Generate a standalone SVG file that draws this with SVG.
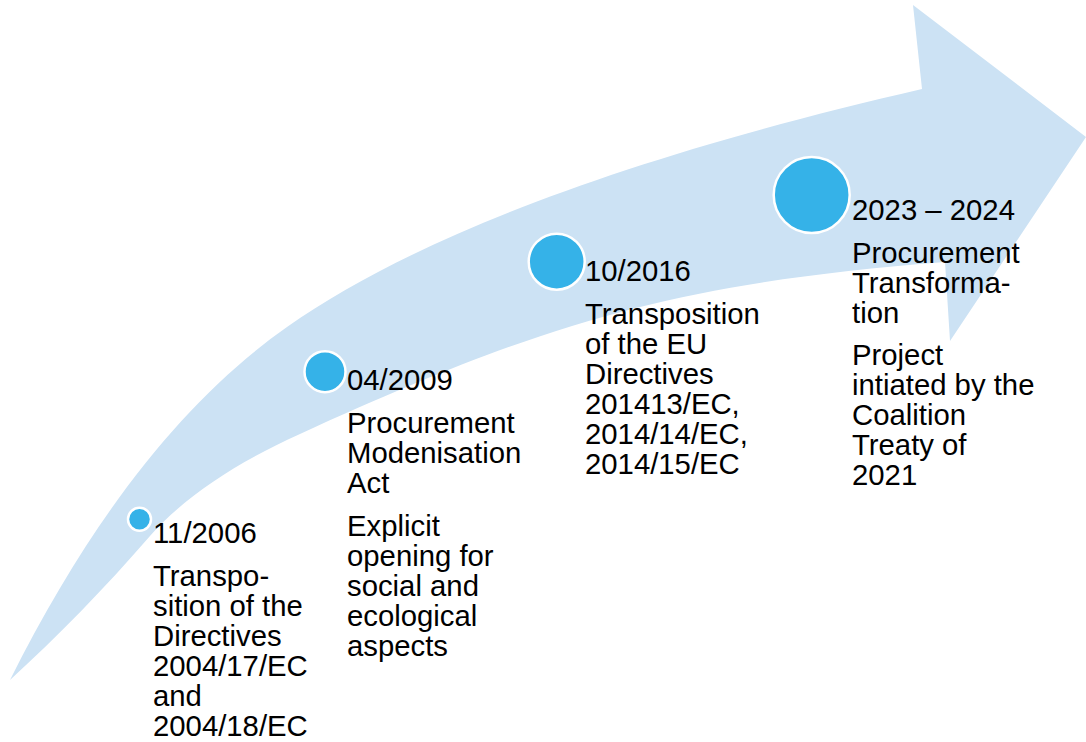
<svg xmlns="http://www.w3.org/2000/svg" width="1086" height="742" viewBox="0 0 1086 742">
<style>
.arrow{fill:#CCE2F4;stroke:none}
.dot{fill:#35B2E8;stroke:#FFFFFF;stroke-width:2.5}
text{font-family:"Liberation Sans",Arial,sans-serif;font-size:29.3px;fill:#000000}
</style>
<rect width="1086" height="742" fill="#FFFFFF"/>
<g id="connectors">
<path class="arrow" d="M10,680 C93,514 186,398 287,327 C417.4,235.6 629,156.4 922,89 L913,5 L1086,137 L950,341 L945,262 C685,282.8 556,316.8 300,434 C234.3,463.7 184.3,497.3 150,536 C105,588 57,637 10,680 Z"/>
</g>
<g id="node1">
<circle class="dot" cx="139.5" cy="519.3" r="11.5"/>
<text x="153" y="543">11/2006</text>
<text x="153" y="586">Transpo-</text>
<text x="153" y="616">sition of the</text>
<text x="153" y="646">Directives</text>
<text x="153" y="676">2004/17/EC</text>
<text x="153" y="706">and</text>
<text x="153" y="736">2004/18/EC</text>
</g>
<g id="node2">
<circle class="dot" cx="325" cy="371.7" r="20.5"/>
<text x="347" y="390">04/2009</text>
<text x="347" y="433">Procurement</text>
<text x="347" y="463">Modenisation</text>
<text x="347" y="493">Act</text>
<text x="347" y="536">Explicit</text>
<text x="347" y="566">opening for</text>
<text x="347" y="596">social and</text>
<text x="347" y="626">ecological</text>
<text x="347" y="656">aspects</text>
</g>
<g id="node3">
<circle class="dot" cx="556.7" cy="261.7" r="28"/>
<text x="585" y="281">10/2016</text>
<text x="585" y="324">Transposition</text>
<text x="585" y="354">of the EU</text>
<text x="585" y="384">Directives</text>
<text x="585" y="414">201413/EC,</text>
<text x="585" y="444">2014/14/EC,</text>
<text x="585" y="474">2014/15/EC</text>
</g>
<g id="node4">
<circle class="dot" cx="811.7" cy="195" r="38"/>
<text x="852" y="220">2023 – 2024</text>
<text x="852" y="263">Procurement</text>
<text x="852" y="293">Transforma-</text>
<text x="852" y="323">tion</text>
<text x="852" y="365">Project</text>
<text x="852" y="395">intiated by the</text>
<text x="852" y="425">Coalition</text>
<text x="852" y="455">Treaty of</text>
<text x="852" y="485">2021</text>
</g>
</svg>
